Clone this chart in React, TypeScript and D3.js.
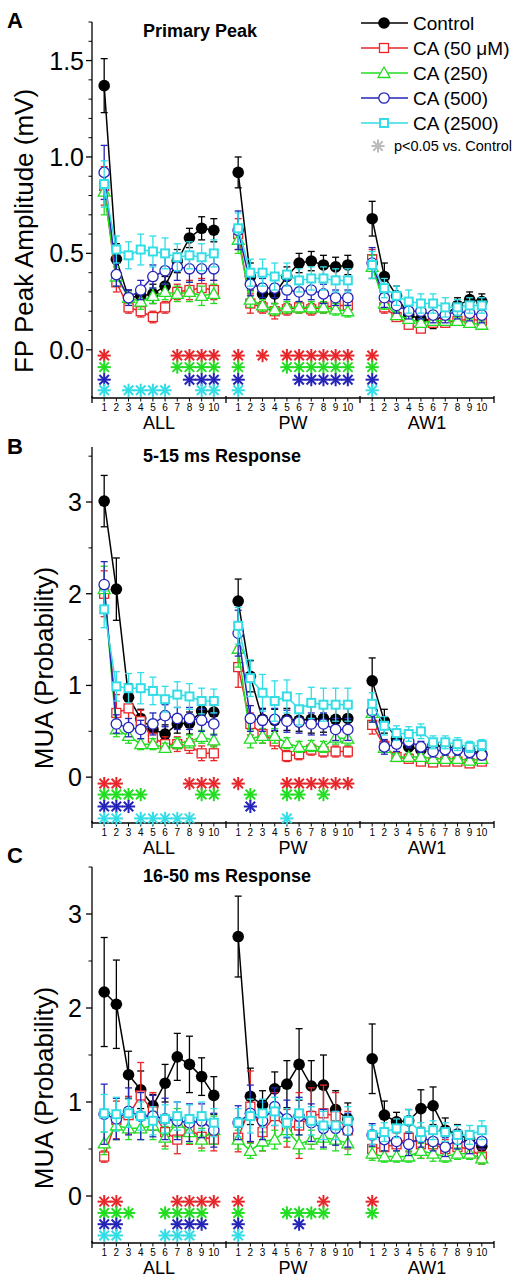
import React from 'react';
import * as d3 from 'd3';

// ---------- categories / labels ----------
const groups = ['ALL', 'PW', 'AW1'];
const trials = [1, 2, 3, 4, 5, 6, 7, 8, 9, 10];
const seriesNames = ['Control', 'CA (50 \u03bcM)', 'CA (250)', 'CA (500)', 'CA (2500)'];
const seriesColors = ['#000000', '#e8262a', '#22dd22', '#2424b8', '#33dde6'];
const seriesShapes = ['dot', 'square', 'triangle', 'circle', 'smallsquare'];
const sigLabel = 'p<0.05 vs. Control';

// ---------- Panel A : Primary Peak (FP amplitude, mV) ----------
const aControl = [1.37, 0.47, 0.27, 0.28, 0.29, 0.33, 0.46, 0.58, 0.63, 0.62, 0.92, 0.38, 0.29, 0.29, 0.38, 0.45, 0.46, 0.44, 0.43, 0.44, 0.68, 0.38, 0.28, 0.18, 0.16, 0.15, 0.18, 0.23, 0.26, 0.25];
const aCA50 = [0.85, 0.35, 0.22, 0.2, 0.17, 0.22, 0.3, 0.31, 0.32, 0.31, 0.6, 0.24, 0.22, 0.2, 0.21, 0.22, 0.21, 0.22, 0.23, 0.23, 0.47, 0.22, 0.17, 0.13, 0.11, 0.14, 0.14, 0.15, 0.16, 0.15];
const aCA250 = [0.82, 0.38, 0.27, 0.25, 0.28, 0.3, 0.29, 0.3, 0.28, 0.29, 0.57, 0.26, 0.23, 0.21, 0.22, 0.22, 0.22, 0.22, 0.21, 0.2, 0.43, 0.24, 0.18, 0.16, 0.14, 0.15, 0.15, 0.15, 0.14, 0.13];
const aCA500 = [0.92, 0.39, 0.27, 0.31, 0.38, 0.41, 0.43, 0.42, 0.42, 0.42, 0.62, 0.34, 0.32, 0.32, 0.31, 0.3, 0.31, 0.29, 0.27, 0.27, 0.45, 0.27, 0.23, 0.2, 0.2, 0.18, 0.18, 0.2, 0.19, 0.18];
const aCA2500 = [0.86, 0.52, 0.49, 0.52, 0.51, 0.5, 0.48, 0.49, 0.48, 0.5, 0.63, 0.4, 0.4, 0.38, 0.39, 0.36, 0.37, 0.37, 0.36, 0.36, 0.44, 0.32, 0.28, 0.25, 0.24, 0.24, 0.22, 0.22, 0.23, 0.23];
const aControlErr = [0.14, 0.08, 0.04, 0.04, 0.05, 0.05, 0.06, 0.05, 0.06, 0.06, 0.08, 0.07, 0.05, 0.05, 0.05, 0.05, 0.05, 0.05, 0.05, 0.05, 0.09, 0.07, 0.05, 0.04, 0.04, 0.04, 0.04, 0.04, 0.04, 0.04];
const aCA50Err = [0.1, 0.05, 0.03, 0.03, 0.03, 0.03, 0.04, 0.05, 0.05, 0.05, 0.08, 0.05, 0.03, 0.04, 0.03, 0.03, 0.03, 0.03, 0.03, 0.03, 0.05, 0.03, 0.02, 0.02, 0.02, 0.02, 0.02, 0.02, 0.02, 0.02];
const aCA250Err = [0.12, 0.05, 0.03, 0.04, 0.04, 0.04, 0.04, 0.05, 0.05, 0.05, 0.07, 0.04, 0.03, 0.03, 0.03, 0.03, 0.03, 0.03, 0.03, 0.03, 0.06, 0.03, 0.02, 0.02, 0.02, 0.02, 0.02, 0.02, 0.02, 0.02];
const aCA500Err = [0.14, 0.06, 0.04, 0.05, 0.06, 0.07, 0.07, 0.07, 0.06, 0.06, 0.1, 0.06, 0.05, 0.05, 0.05, 0.05, 0.05, 0.05, 0.04, 0.04, 0.08, 0.05, 0.04, 0.04, 0.04, 0.04, 0.04, 0.04, 0.04, 0.04];
const aCA2500Err = [0.12, 0.07, 0.07, 0.08, 0.08, 0.08, 0.07, 0.07, 0.07, 0.07, 0.08, 0.07, 0.07, 0.07, 0.06, 0.06, 0.06, 0.06, 0.06, 0.06, 0.07, 0.05, 0.05, 0.06, 0.05, 0.05, 0.05, 0.04, 0.04, 0.04];
// significance stars: [ALL, PW, AW1] trial numbers per CA series
const aSig50 = [[1, 7, 8, 9, 10], [1, 3, 5, 6, 7, 8, 9, 10], [1]];
const aSig250 = [[1, 7, 8, 9, 10], [1, 5, 6, 7, 8, 9, 10], [1]];
const aSig500 = [[1, 8, 9, 10], [1, 6, 7, 8, 9, 10], [1]];
const aSig2500 = [[1, 3, 4, 5, 6, 9, 10], [1], [1]];
const aStarLevels = [-0.03, -0.09, -0.155, -0.21];
const aYMajor = [0, 0.5, 1.0, 1.5];
const aYMinor = [0.1, 0.2, 0.3, 0.4, 0.6, 0.7, 0.8, 0.9, 1.1, 1.2, 1.3, 1.4, 1.6, 1.7];

// ---------- Panel B : 5-15 ms Response (MUA) ----------
const bControl = [3.01, 2.05, 0.87, 0.64, 0.52, 0.47, 0.58, 0.59, 0.72, 0.71, 1.92, 1.1, 0.63, 0.62, 0.63, 0.62, 0.63, 0.64, 0.63, 0.64, 1.05, 0.61, 0.42, 0.33, 0.3, 0.35, 0.33, 0.32, 0.3, 0.25];
const bCA50 = [2.0, 0.7, 0.75, 0.61, 0.43, 0.36, 0.36, 0.34, 0.26, 0.26, 1.2, 0.58, 0.47, 0.39, 0.23, 0.25, 0.3, 0.28, 0.28, 0.28, 0.57, 0.34, 0.22, 0.2, 0.17, 0.16, 0.17, 0.17, 0.15, 0.17];
const bCA250 = [2.05, 0.52, 0.45, 0.36, 0.36, 0.32, 0.37, 0.39, 0.44, 0.4, 1.4, 0.42, 0.45, 0.45, 0.37, 0.33, 0.34, 0.33, 0.43, 0.42, 0.7, 0.32, 0.22, 0.22, 0.22, 0.2, 0.2, 0.2, 0.18, 0.2];
const bCA500 = [2.1, 0.58, 0.54, 0.52, 0.58, 0.67, 0.64, 0.64, 0.62, 0.58, 1.57, 0.64, 0.62, 0.63, 0.61, 0.6, 0.58, 0.58, 0.52, 0.52, 0.72, 0.33, 0.36, 0.39, 0.33, 0.28, 0.3, 0.3, 0.27, 0.24];
const bCA2500 = [1.83, 0.99, 0.97, 0.97, 0.94, 0.85, 0.9, 0.88, 0.83, 0.83, 1.65, 1.08, 0.92, 0.83, 0.88, 0.74, 0.81, 0.79, 0.79, 0.79, 0.8, 0.56, 0.48, 0.47, 0.5, 0.38, 0.38, 0.36, 0.33, 0.35];
const bControlErr = [0.28, 0.34, 0.15, 0.1, 0.1, 0.1, 0.1, 0.12, 0.12, 0.12, 0.24, 0.17, 0.12, 0.12, 0.12, 0.12, 0.15, 0.15, 0.12, 0.12, 0.25, 0.13, 0.1, 0.08, 0.06, 0.06, 0.06, 0.06, 0.05, 0.05];
const bCA50Err = [0.25, 0.2, 0.2, 0.12, 0.1, 0.08, 0.08, 0.08, 0.08, 0.08, 0.22, 0.12, 0.1, 0.08, 0.06, 0.06, 0.06, 0.06, 0.06, 0.06, 0.1, 0.06, 0.04, 0.04, 0.04, 0.04, 0.04, 0.04, 0.04, 0.04];
const bCA250Err = [0.25, 0.08, 0.08, 0.06, 0.06, 0.05, 0.06, 0.07, 0.07, 0.07, 0.2, 0.1, 0.08, 0.08, 0.06, 0.06, 0.06, 0.06, 0.07, 0.07, 0.1, 0.05, 0.04, 0.04, 0.04, 0.04, 0.04, 0.04, 0.04, 0.04];
const bCA500Err = [0.25, 0.1, 0.1, 0.1, 0.12, 0.12, 0.12, 0.12, 0.12, 0.12, 0.25, 0.14, 0.12, 0.12, 0.12, 0.12, 0.12, 0.12, 0.12, 0.12, 0.12, 0.08, 0.08, 0.07, 0.06, 0.06, 0.06, 0.06, 0.06, 0.05];
const bCA2500Err = [0.2, 0.16, 0.16, 0.17, 0.15, 0.14, 0.14, 0.14, 0.14, 0.13, 0.2, 0.2, 0.2, 0.22, 0.18, 0.17, 0.17, 0.18, 0.18, 0.18, 0.12, 0.1, 0.08, 0.08, 0.08, 0.07, 0.07, 0.07, 0.06, 0.06];
const bSig50 = [[1, 2, 8, 9, 10], [1, 5, 6, 7, 8, 9, 10], []];
const bSig250 = [[1, 2, 3, 4, 9, 10], [2, 5, 6, 8], []];
const bSig500 = [[1, 2, 3], [2], []];
const bSig2500 = [[1, 2, 4, 5, 6, 7, 8], [5], []];
const bStarLevels = [-0.07, -0.19, -0.32, -0.45];
const bYMajor = [0, 1, 2, 3];
const bYMinor = [0.5, 1.5, 2.5, 3.5];

// ---------- Panel C : 16-50 ms Response (MUA) ----------
const cControl = [2.17, 2.04, 1.29, 1.13, 0.96, 1.2, 1.48, 1.4, 1.27, 1.07, 2.76, 1.06, 0.97, 1.14, 1.19, 1.4, 1.17, 1.18, 0.92, 0.82, 1.46, 0.86, 0.79, 0.8, 0.93, 0.96, 0.7, 0.66, 0.6, 0.53];
const cCA50 = [0.42, 0.81, 0.86, 1.07, 0.9, 0.68, 0.6, 0.7, 0.63, 0.6, 0.62, 0.95, 0.68, 0.85, 0.72, 0.75, 0.85, 0.88, 0.85, 0.7, 0.5, 0.52, 0.55, 0.62, 0.55, 0.55, 0.5, 0.52, 0.5, 0.42];
const cCA250 = [0.56, 0.75, 0.72, 0.72, 0.75, 0.62, 0.78, 0.68, 0.6, 0.7, 0.6, 0.48, 0.58, 0.6, 0.7, 0.55, 0.6, 0.62, 0.6, 0.56, 0.45, 0.42, 0.42, 0.42, 0.48, 0.45, 0.42, 0.45, 0.45, 0.4];
const cCA500 = [0.87, 0.82, 0.9, 0.85, 0.85, 0.82, 0.8, 0.78, 0.8, 0.7, 0.78, 0.88, 0.8, 0.95, 0.82, 0.85, 0.78, 0.72, 0.72, 0.7, 0.65, 0.6, 0.58, 0.55, 0.62, 0.58, 0.52, 0.6, 0.55, 0.58];
const cCA2500 = [0.88, 0.87, 0.88, 0.85, 0.8, 0.82, 0.85, 0.82, 0.85, 0.78, 0.78, 0.85, 0.88, 0.9, 0.78, 0.88, 0.8, 0.75, 0.75, 0.8, 0.65, 0.68, 0.72, 0.8, 0.68, 0.7, 0.68, 0.65, 0.65, 0.7];
const cControlErr = [0.58, 0.47, 0.25, 0.2, 0.12, 0.2, 0.25, 0.3, 0.2, 0.2, 0.43, 0.3, 0.15, 0.18, 0.25, 0.38, 0.27, 0.32, 0.2, 0.17, 0.37, 0.15, 0.1, 0.12, 0.2, 0.2, 0.13, 0.1, 0.08, 0.07];
const cCA50Err = [0.06, 0.2, 0.2, 0.35, 0.2, 0.15, 0.15, 0.15, 0.12, 0.12, 0.15, 0.38, 0.2, 0.25, 0.2, 0.35, 0.3, 0.3, 0.25, 0.2, 0.1, 0.1, 0.12, 0.15, 0.15, 0.12, 0.1, 0.1, 0.1, 0.08];
const cCA250Err = [0.12, 0.15, 0.12, 0.12, 0.15, 0.12, 0.15, 0.12, 0.12, 0.15, 0.1, 0.08, 0.1, 0.1, 0.12, 0.1, 0.1, 0.12, 0.12, 0.12, 0.07, 0.06, 0.06, 0.06, 0.08, 0.08, 0.06, 0.06, 0.06, 0.06];
const cCA500Err = [0.32, 0.22, 0.25, 0.25, 0.22, 0.22, 0.2, 0.2, 0.18, 0.18, 0.18, 0.3, 0.2, 0.2, 0.2, 0.2, 0.2, 0.2, 0.18, 0.18, 0.12, 0.12, 0.1, 0.12, 0.1, 0.1, 0.1, 0.1, 0.1, 0.08];
const cCA2500Err = [0.2, 0.18, 0.15, 0.15, 0.15, 0.15, 0.15, 0.15, 0.15, 0.15, 0.15, 0.18, 0.15, 0.15, 0.15, 0.15, 0.15, 0.15, 0.15, 0.15, 0.1, 0.1, 0.1, 0.12, 0.1, 0.1, 0.1, 0.1, 0.1, 0.1];
const cSig50 = [[1, 2, 7, 8, 9, 10], [1, 8], [1]];
const cSig250 = [[1, 2, 3, 6, 7, 8, 9], [1, 5, 6, 7, 8], [1]];
const cSig500 = [[1, 2, 7, 8, 9], [1, 6], []];
const cSig2500 = [[1, 2, 6, 7, 8], [1], []];
const cStarLevels = [-0.06, -0.18, -0.3, -0.42];
const cYMajor = [0, 1, 2, 3];
const cYMinor = [0.5, 1.5, 2.5, 3.5];

// ---------- panel table built from the arrays ----------
const panels = [
  {
    letter: 'A', letterY: 28, title: 'Primary Peak', ylabel: 'FP Peak Amplitude (mV)',
    top: 22, bottom: 398, domain: [-0.25, 1.7], fmt: d3.format('.1f'),
    major: aYMajor, minor: aYMinor,
    values: [aControl, aCA50, aCA250, aCA500, aCA2500],
    errs: [aControlErr, aCA50Err, aCA250Err, aCA500Err, aCA2500Err],
    sig: [aSig50, aSig250, aSig500, aSig2500], starLevels: aStarLevels,
    labelX: 33, labelY: 231, tickX: 84,
  },
  {
    letter: 'B', letterY: 454, title: '5-15 ms Response', ylabel: 'MUA (Probability)',
    top: 447, bottom: 823, domain: [-0.5, 3.6], fmt: d3.format('d'),
    major: bYMajor, minor: bYMinor,
    values: [bControl, bCA50, bCA250, bCA500, bCA2500],
    errs: [bControlErr, bCA50Err, bCA250Err, bCA500Err, bCA2500Err],
    sig: [bSig50, bSig250, bSig500, bSig2500], starLevels: bStarLevels,
    labelX: 53, labelY: 668, tickX: 82,
  },
  {
    letter: 'C', letterY: 863, title: '16-50 ms Response', ylabel: 'MUA (Probability)',
    top: 867, bottom: 1243, domain: [-0.5, 3.5], fmt: d3.format('d'),
    major: cYMajor, minor: cYMinor,
    values: [cControl, cCA50, cCA250, cCA500, cCA2500],
    errs: [cControlErr, cCA50Err, cCA250Err, cCA500Err, cCA2500Err],
    sig: [cSig50, cSig250, cSig500, cSig2500], starLevels: cStarLevels,
    labelX: 53, labelY: 1088, tickX: 82,
  },
];

const FONT = "Arial, 'Liberation Sans', Helvetica, sans-serif";
const X0 = 92;
const X1 = 494;
const x = d3.scaleLinear().domain([0, 33]).range([X0, X1]);
const posOf = (g: number, t: number) => g * 11 + t;

function Marker({ shape, color, cx, cy }: any) {
  if (shape === 'dot') return <circle cx={cx} cy={cy} r={5.8} fill={color} />;
  if (shape === 'square') return <rect x={cx - 4.5} y={cy - 4.5} width={9} height={9} fill="#fff" stroke={color} strokeWidth={1.3} />;
  if (shape === 'smallsquare') return <rect x={cx - 4} y={cy - 4} width={8} height={8} fill="#fff" stroke={color} strokeWidth={2} />;
  if (shape === 'circle') return <circle cx={cx} cy={cy} r={5.2} fill="#fff" stroke={color} strokeWidth={1.3} />;
  const s = 6;
  const pts = `${cx},${cy - s} ${cx - s},${cy + s * 0.75} ${cx + s},${cy + s * 0.75}`;
  return <polygon points={pts} fill="#fff" stroke={color} strokeWidth={1.3} />;
}

function Star({ cx, cy, color }: any) {
  const r = 6.6;
  const d = r * 0.72;
  return (
    <g stroke={color} strokeWidth={2}>
      <line x1={cx - r} y1={cy} x2={cx + r} y2={cy} />
      <line x1={cx} y1={cy - r} x2={cx} y2={cy + r} />
      <line x1={cx - d} y1={cy - d} x2={cx + d} y2={cy + d} />
      <line x1={cx - d} y1={cy + d} x2={cx + d} y2={cy - d} />
    </g>
  );
}

function Panel({ p }: any) {
  const y = d3.scaleLinear().domain(p.domain).range([p.bottom, p.top]);
  const series = p.values.map((vals: number[], si: number) => {
    const color = seriesColors[si];
    const shape = seriesShapes[si];
    const errs = p.errs[si];
    return (
      <g key={si}>
        {groups.map((g, gi) => {
          const pts = trials.map((t) => ({ t, v: vals[gi * 10 + t - 1], e: errs[gi * 10 + t - 1] }));
          const path = d3.line<any>().x((d) => x(posOf(gi, d.t))).y((d) => y(d.v))(pts) || '';
          return (
            <g key={g}>
              <g stroke={color} strokeWidth={1.3} fill="none">
                {pts.map((d) => {
                  const px = x(posOf(gi, d.t));
                  const yt = y(d.v + d.e);
                  const yb = y(d.v - d.e);
                  return (
                    <g key={d.t}>
                      <line x1={px} x2={px} y1={yt} y2={yb} />
                      <line x1={px - 3.5} x2={px + 3.5} y1={yt} y2={yt} />
                      <line x1={px - 3.5} x2={px + 3.5} y1={yb} y2={yb} />
                    </g>
                  );
                })}
              </g>
              <path d={path} stroke={color} strokeWidth={1.5} fill="none" />
              {pts.map((d) => (
                <Marker key={d.t} shape={shape} color={color} cx={x(posOf(gi, d.t))} cy={y(d.v)} />
              ))}
            </g>
          );
        })}
      </g>
    );
  });

  const stars = p.sig.map((sg: number[][], si: number) =>
    sg.map((list: number[], gi: number) =>
      list.map((t: number) => (
        <Star key={`${si}-${gi}-${t}`} cx={x(posOf(gi, t))} cy={y(p.starLevels[si])} color={seriesColors[si + 1]} />
      ))
    )
  );

  const xTicksMajor = [0, 11, 22, 33];
  return (
    <g>
      <text x={7} y={p.letterY} fontSize={22} fontWeight="bold" fontFamily={FONT}>{p.letter}</text>
      <text x={143} y={p.top + 15} fontSize={18} fontWeight="bold" fontFamily={FONT}>{p.title}</text>
      {/* y axis */}
      <line x1={X0} x2={X0} y1={p.top} y2={p.bottom} stroke="#000" strokeWidth={1.3} />
      {p.major.map((v: number) => (
        <g key={'M' + v}>
          <line x1={X0 - 6} x2={X0} y1={y(v)} y2={y(v)} stroke="#000" strokeWidth={1.3} />
          <text x={p.tickX} y={y(v) + 9} textAnchor="end" fontSize={25} fontFamily={FONT}>{p.fmt(v)}</text>
        </g>
      ))}
      {p.minor.map((v: number) => (
        <line key={'m' + v} x1={X0 - 3.5} x2={X0} y1={y(v)} y2={y(v)} stroke="#000" strokeWidth={1} />
      ))}
      <text transform={`translate(${p.labelX},${p.labelY}) rotate(-90)`} textAnchor="middle" fontSize={26} fontFamily={FONT}>{p.ylabel}</text>
      {/* x axis */}
      <line x1={X0} x2={X1} y1={p.bottom} y2={p.bottom} stroke="#000" strokeWidth={1.3} />
      {xTicksMajor.map((v) => (
        <line key={'xt' + v} x1={x(v)} x2={x(v)} y1={p.bottom - 2} y2={p.bottom + 5} stroke="#000" strokeWidth={1.3} />
      ))}
      {groups.map((g, gi) => (
        <g key={'xg' + g}>
          {trials.map((t) => (
            <g key={t}>
              <line x1={x(posOf(gi, t))} x2={x(posOf(gi, t))} y1={p.bottom} y2={p.bottom + 3.5} stroke="#000" strokeWidth={1} />
              <text x={x(posOf(gi, t))} y={p.bottom + 13} textAnchor="middle" fontSize={10} fontFamily={FONT}>{t}</text>
            </g>
          ))}
          <text x={x(posOf(gi, 5.5))} y={p.bottom + 31} textAnchor="middle" fontSize={18} fontFamily={FONT}>{g}</text>
        </g>
      ))}
      {series}
      {stars}
    </g>
  );
}

function Legend() {
  const rows = [23, 48, 73, 98, 123];
  return (
    <g fontFamily={FONT}>
      {seriesNames.map((name, i) => (
        <g key={name}>
          <line x1={361} x2={408} y1={rows[i]} y2={rows[i]} stroke={seriesColors[i]} strokeWidth={1.5} />
          <Marker shape={seriesShapes[i]} color={seriesColors[i]} cx={384} cy={rows[i]} />
          <text x={413} y={rows[i] + 7} fontSize={19}>{name}</text>
        </g>
      ))}
      <Star cx={378} cy={146} color="#bbbbbb" />
      <text x={394} y={151} fontSize={14.5}>{sigLabel}</text>
    </g>
  );
}

export default function App() {
  return (
    <svg width={532} height={1280} style={{ position: 'absolute', left: 0, top: 0, background: '#fff' }}>
      <rect width={532} height={1280} fill="#fff" />
      {panels.map((p) => (
        <Panel key={p.letter} p={p} />
      ))}
      <Legend />
    </svg>
  );
}
